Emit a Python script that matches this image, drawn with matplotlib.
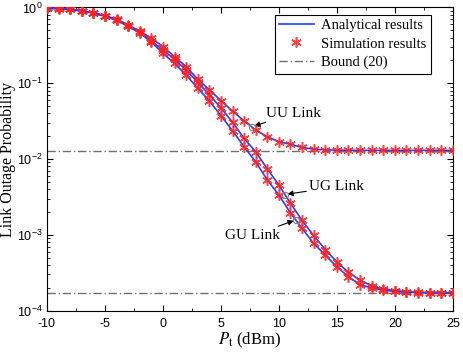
import numpy as np
import matplotlib
matplotlib.use("Agg")
import matplotlib.pyplot as plt
from matplotlib.ticker import MultipleLocator, LogLocator, FuncFormatter, NullFormatter

plt.rcParams['font.family'] = ['Liberation Serif', 'DejaVu Serif']
plt.rcParams['mathtext.fontset'] = 'stix'

# transmit power (dBm)
pt = np.arange(-10, 26)

# outage probability
uu = [0.975, 0.970, 0.945, 0.905, 0.852, 0.78, 0.70, 0.59, 0.485, 0.392, 0.305,
      0.224, 0.166, 0.113, 0.082, 0.059, 0.043,
      0.0318, 0.0242, 0.0197, 0.0169, 0.0157, 0.0142, 0.0135, 0.0132,
      0.0131, 0.01305, 0.0130, 0.0130, 0.0130, 0.0130, 0.0130, 0.0130, 0.0130, 0.0130, 0.0130]
ug = [0.974, 0.968, 0.942, 0.90, 0.845, 0.77, 0.685, 0.575, 0.47, 0.36, 0.275,
      0.206, 0.149, 0.103, 0.0705, 0.0473, 0.0306,
      0.0187, 0.0125, 0.0074, 0.00454, 0.00261, 0.00155, 0.00098, 0.00064,
      0.00044, 0.00032, 0.000254, 0.000212, 0.000193, 0.000184, 0.000177, 0.000174,
      0.000173, 0.000172, 0.000172]
gu = [0.973, 0.966, 0.94, 0.897, 0.84, 0.765, 0.675, 0.565, 0.46, 0.35, 0.248,
      0.183, 0.128, 0.0863, 0.0582, 0.0375, 0.0236,
      0.0145, 0.0092, 0.0053, 0.00335, 0.00194, 0.00122, 0.00077, 0.00054,
      0.000377, 0.000281, 0.00022, 0.000199, 0.000187, 0.000179, 0.000175, 0.000173,
      0.000172, 0.000172, 0.000172]

bound_uu = 0.0129
bound_low = 1.7e-4

fig = plt.figure(figsize=(4.63, 3.53), dpi=100)
ax = fig.add_axes([0.1015, 0.12, 0.8765, 0.859])

blue = '#2040ff'
red = '#ff2020'

for i, y in enumerate([uu, ug, gu]):
    ax.plot(pt, y, color=blue, lw=1.2, zorder=3,
            label='Analytical results' if i == 0 else None)
for i, y in enumerate([uu, ug, gu]):
    ax.plot(pt, y, ls='none', marker=(6, 2, 0), ms=7.5, mew=1.1, color=red, alpha=0.85,
            zorder=4, label='Simulation results' if i == 0 else None)

ax.axhline(bound_uu, color='#707070', ls='-.', lw=1, dashes=(6, 2, 1, 2), label='Bound (20)', zorder=2)
ax.axhline(bound_low, color='#707070', ls='-.', lw=1, dashes=(6, 2, 1, 2), zorder=2)

ax.set_yscale('log')
ax.set_xlim(-10, 25)
ax.set_ylim(1e-4, 1)

ax.xaxis.set_major_locator(MultipleLocator(5))
ax.xaxis.set_minor_locator(MultipleLocator(2.5))
ax.yaxis.set_major_locator(LogLocator(base=10))
ax.yaxis.set_minor_locator(LogLocator(base=10, subs=np.arange(2, 10)))
ax.yaxis.set_minor_formatter(NullFormatter())
ax.yaxis.set_major_formatter(FuncFormatter(lambda v, p: r'$\mathregular{10^{%d}}$' % round(np.log10(v))))
ax.xaxis.set_major_formatter(FuncFormatter(lambda v, p: '%d' % v))

ax.tick_params(which='both', direction='in', top=True, right=True)
ax.tick_params(which='major', length=4, width=0.8, pad=3)
ax.tick_params(axis='x', which='major', pad=5)
ax.tick_params(which='minor', length=2, width=0.6)
for lab in ax.get_xticklabels() + ax.get_yticklabels():
    lab.set_fontfamily('Liberation Sans')
    lab.set_fontsize(9)

ax.set_xlabel(r'$P_{\mathrm{t}}$ (dBm)', fontsize=12, labelpad=1)
ax.set_ylabel('Link Outage Probability', fontsize=11.5, labelpad=1)

leg = ax.legend(loc='upper right', bbox_to_anchor=(0.946, 0.976), fontsize=10.5,
                frameon=True, fancybox=False, edgecolor='black', framealpha=1,
                handlelength=2.4, borderpad=0.3, labelspacing=0.35, handletextpad=0.5,
                borderaxespad=0)
leg.get_frame().set_linewidth(0.8)

arrow = dict(arrowstyle='-|>', color='black', lw=0.8, mutation_scale=8, shrinkA=0, shrinkB=2)
ax.annotate('UU Link', xy=(7.65, 0.0265), xytext=(8.9, 0.0404), fontsize=11,
            va='center', ha='left', arrowprops=arrow)
ax.annotate('UG Link', xy=(10.5, 0.0034), xytext=(12.6, 0.0043), fontsize=11,
            va='center', ha='left', arrowprops=arrow)
ax.annotate('GU Link', xy=(11.5, 0.00158), xytext=(10.1, 0.00098), fontsize=11,
            va='center', ha='right', arrowprops=arrow)
ax.plot([7.65, 10.5, 11.5], [0.0265, 0.0034, 0.00158], ls='none', marker='o', ms=4.5,
        mfc='none', mec='#808080', mew=0.8, zorder=5)

fig.savefig('out.png', dpi=100)
